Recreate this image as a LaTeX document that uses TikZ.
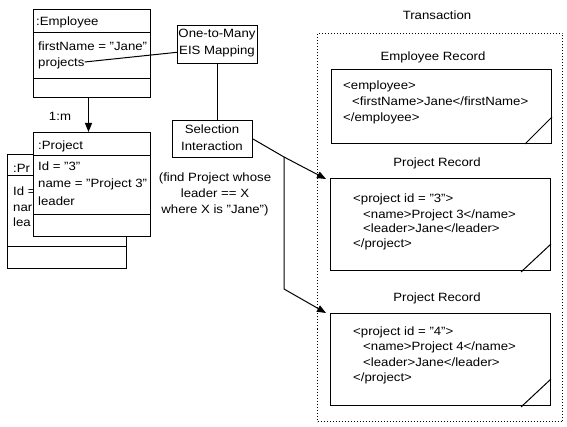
\documentclass[tikz,border=0pt]{standalone}
\usepackage{fontspec}
\setmainfont{Liberation Sans}[FakeStretch=1.1]
\usetikzlibrary{arrows.meta,calc}
\tikzset{
  box/.style={draw, line width=1pt, anchor=north west, inner sep=0pt, fill=white},
  txt/.style={anchor=west, inner sep=0pt, text height=8.6pt, text depth=0pt},
  ctxt/.style={inner sep=0pt, align=center},
  lnk/.style={line width=1pt},
  arr/.style={line width=1pt, -{Triangle[length=9pt,width=7pt]}},
  dogear/.style={line width=1pt},
}
\begin{document}
\begin{tikzpicture}[x=1pt,y=-1pt,font=\fontsize{12}{16}\selectfont]
\useasboundingbox (0,0) rectangle (567,427);
% back project card
\node[box, minimum width=119pt, minimum height=114pt] (bproj) at (7,154) {};
\draw[lnk] (7,176) -- (126,176);
\draw[lnk] (7,247) -- (126,247);
\node[txt] (b1) at (13,168) {:Pr};
\node[txt] (b2) at (13,191) {Id =};
\node[txt] (b3) at (13,207) {nar};
\node[txt] (b4) at (13,222) {lea};
% front project card
\node[box, minimum width=117pt, minimum height=104pt] (proj) at (33,132) {};
\draw[lnk] (33,156) -- (150,156);
\draw[lnk] (33,215) -- (150,215);
\node[txt] (p1) at (38,145) {:Project};
\node[txt] (p2) at (38,166) {Id = "3"};
\node[txt] (p3) at (38,183) {name = "Project 3"};
\node[txt] (p4) at (38,201) {leader};
% employee
\node[box, minimum width=117pt, minimum height=88pt] (emp) at (33,9) {};
\draw[lnk] (33,33) -- (150,33);
\draw[lnk] (33,79) -- (150,79);
\node[txt] (e1) at (36,21) {:Employee};
\node[txt] (e2) at (38,46) {firstName = "Jane"};
\node[txt] (e3) at (38,62) {projects};
\draw[arr] ([xshift=-3.5pt]emp.south) -- ([xshift=-3.5pt]proj.north);
\node (onem) at (60,116) {1:m};
% mapping and selection
\node[box, minimum width=80pt, minimum height=38pt] (map) at (177,25) {};
\node[ctxt] (maptxt) at (217,43) {One-to-Many\\[1pt]EIS Mapping};
\node[box, minimum width=80pt, minimum height=37pt] (sel) at (172,120) {};
\node[ctxt] (seltxt) at (212,138) {Selection\\[1pt]Interaction};
\draw[lnk] (e3.east) -- ($(map.north west)!0.7!(map.south west)$);
\draw[lnk] (map.south) -- (map.south |- sel.north);
\node[ctxt] (note) at (215,194) {(find Project whose\\leader == X\\where X is "Jane")};
% transaction
\node[draw, dotted, line width=1pt, anchor=north west, inner sep=0pt, minimum width=245pt, minimum height=388pt] (txn) at (317,33) {};
\node (txnlbl) at (437,15) {Transaction};
\node (erlbl) at (433,57) {Employee Record};
\node[box, minimum width=220pt, minimum height=74pt] (erec) at (331,69) {};
\draw[dogear] ($(erec.south east)+(-27,0)$) -- ($(erec.south east)+(0,-27)$);
\node[txt] (r1) at (343,85) {<employee>};
\node[txt] (r2) at (352,101) {<firstName>Jane</firstName>};
\node[txt] (r3) at (343,117) {</employee>};
\node (pr1lbl) at (437,163) {Project Record};
\node[box, minimum width=220pt, minimum height=92pt] (prec1) at (330,178) {};
\draw[dogear] ($(prec1.south east)+(-30,1)$) -- ($(prec1.south east)+(0,-27)$);
\node[txt] (q1) at (353,198) {<project id = "3">};
\node[txt] (q2) at (363,214) {<name>Project 3</name>};
\node[txt] (q3) at (363,228) {<leader>Jane</leader>};
\node[txt] (q4) at (353,243) {</project>};
\node (pr2lbl) at (437,298) {Project Record};
\node[box, minimum width=220pt, minimum height=92pt] (prec2) at (330,313) {};
\draw[dogear] ($(prec2.south east)+(-30,1)$) -- ($(prec2.south east)+(0,-27)$);
\node[txt] (s1) at (353,331) {<project id = "4">};
\node[txt] (s2) at (363,346) {<name>Project 4</name>};
\node[txt] (s3) at (363,362) {<leader>Jane</leader>};
\node[txt] (s4) at (353,377) {</project>};
% connectors
\coordinate (br) at (284,157);
\coordinate (bend) at (284,289);
\draw[lnk] (sel.east) -- (br);
\draw[arr] (br) -- ($(prec1.north west)+(-4,1)$);
\draw[arr] (br) -- (bend) -- ($(prec2.north west)+(-4,0)$);
\end{tikzpicture}
\end{document}
